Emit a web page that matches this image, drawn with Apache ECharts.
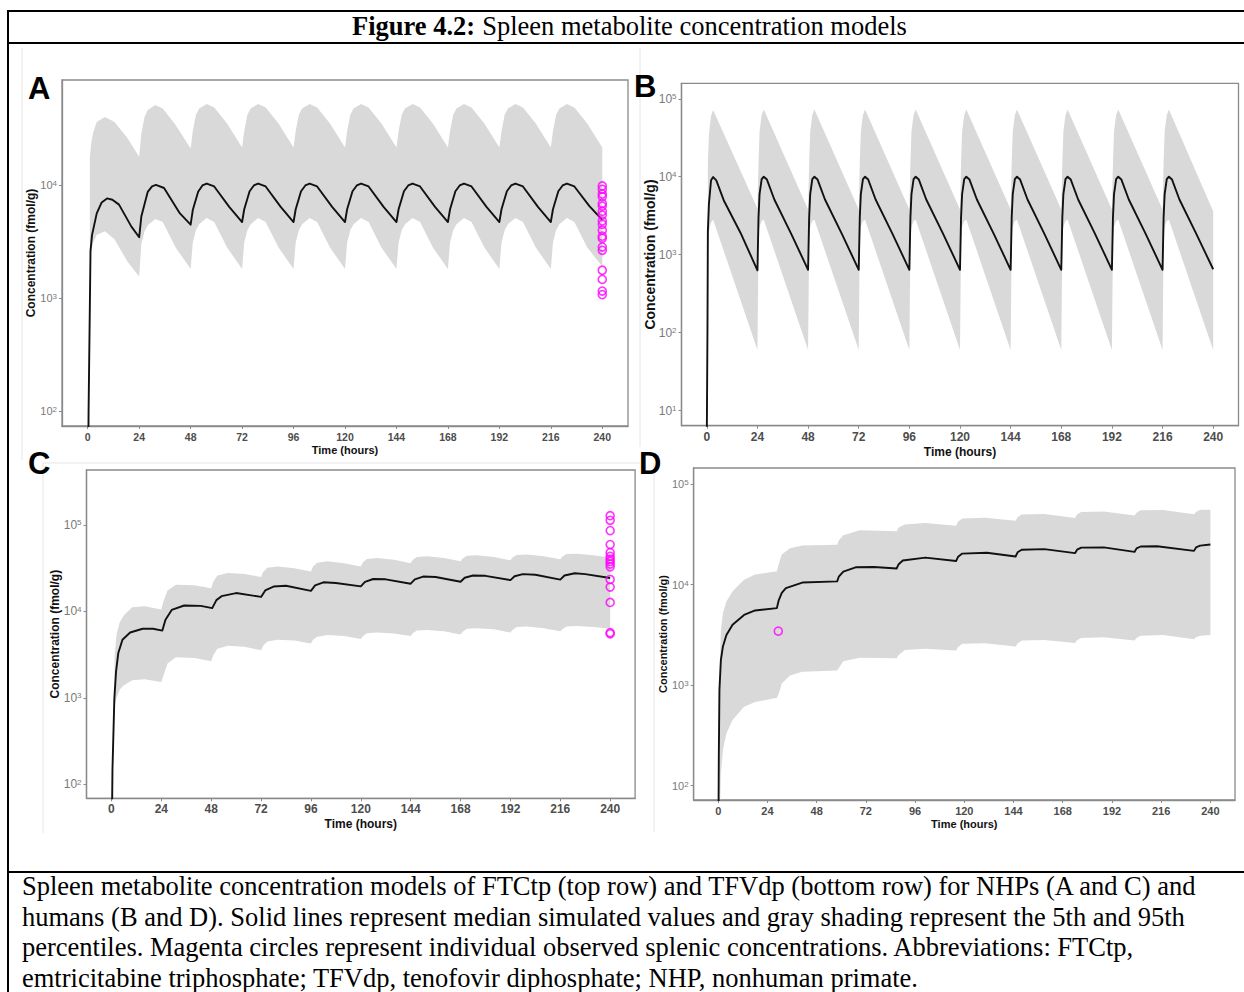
<!DOCTYPE html>
<html><head><meta charset="utf-8">
<script src="https://cdn.jsdelivr.net/npm/echarts@6/dist/echarts.min.js"></script>
<style>html,body{margin:0;padding:0;background:#fff}#c{width:1244px;height:992px}</style>
</head><body><div id="c"></div><script>
// ---------- tick labels ----------
const xTicks = [0, 24, 48, 72, 96, 120, 144, 168, 192, 216, 240];
const yTicksA = [100, 1000, 10000];
const yTicksB = [10, 100, 1000, 10000, 100000];
const yTicksC = [100, 1000, 10000, 100000];
const yTicksD = [100, 1000, 10000, 100000];

// ---------- Panel A : NHP FTCtp ----------
const aLineT = [0,0.4,1.3,2,4.2,6.5,9,11.5,14.6,20.3,24,
  25,28,30,31.8,35.6,43,48,
  49,51.5,53.5,55.5,59,66,72,
  73,75.5,77.5,79.5,83,90,96,
  97,99.5,101.5,103.5,107,114,120,
  121,123.5,125.5,127.5,131,138,144,
  145,147.5,149.5,151.5,155,162,168,
  169,171.5,173.5,175.5,179,186,192,
  193,195.5,197.5,199.5,203,210,216,
  217,219.5,221.5,223.5,227,234,240];
const aLineV = [10,100,2600,3600,5600,7000,7600,7400,6700,4300,3450,
  5250,8700,9700,10000,9400,5600,4450,
  6000,8700,9900,10300,9700,6400,4700,
  6100,8800,9900,10300,9700,6400,4700,
  6100,8800,9900,10300,9700,6400,4700,
  6100,8800,9900,10300,9700,6400,4700,
  6100,8800,9900,10300,9700,6400,4700,
  6100,8800,9900,10300,9700,6400,4700,
  6100,8800,9900,10300,9700,6400,4700,
  6100,8800,9900,10300,9700,6500,4900];
const aBandT = [1,1.7,2.5,4.2,8,12.5,18.5,24,
  25,26.5,28,31.5,35,41,48,
  49,50.5,52,55.5,59,65,72,
  73,74.5,76,79.5,83,89,96,
  97,98.5,100,103.5,107,113,120,
  121,122.5,124,127.5,131,137,144,
  145,146.5,148,151.5,155,161,168,
  169,170.5,172,175.5,179,185,192,
  193,194.5,196,199.5,203,209,216,
  217,218.5,220,223.5,227,233,240];
const aHigh = [17800,24000,29000,36000,40000,36000,26000,17800,
  28600,40000,46000,51000,47500,34000,21000,
  30000,42000,47500,52000,48500,35000,21500,
  30000,42000,47500,52000,48500,35000,21500,
  30000,42000,47500,52000,48500,35000,21500,
  30000,42000,47500,52000,48500,35000,21500,
  30000,42000,47500,52000,48500,35000,21500,
  30000,42000,47500,52000,48500,35000,21500,
  30000,42000,47500,52000,48500,35000,21500,
  30000,42000,47500,52000,48500,35000,21500];
const aLow = [2300,2700,3100,3600,3900,3300,2100,1550,
  3000,3900,4400,5000,4700,2800,1800,
  3100,4000,4500,5100,4700,2800,1800,
  3100,4000,4500,5100,4700,2800,1800,
  3100,4000,4500,5100,4700,2800,1800,
  3100,4000,4500,5100,4700,2800,1800,
  3100,4000,4500,5100,4700,2800,1800,
  3100,4000,4500,5100,4700,2800,1800,
  3100,4000,4500,5100,4700,2800,1800,
  3100,4000,4500,5100,4700,2800,1900];
const aObsT = [240,240,240,240,240,240,240,240,240,240,240,240,240,240,240,240,240,240,240];
const aObsV = [9800,9160,8320,7870,6880,6500,5840,5410,4800,4480,3980,3520,3370,2820,2640,1760,1460,1150,1070];

// ---------- Panel B : human FTCtp ----------
const bLineT = [0,0.3,0.5,1,2,3,4.5,8,16,24,
  24.5,25,26,27,28.5,32,40,48,
  48.5,49,50,51,52.5,56,64,72,
  72.5,73,74,75,76.5,80,88,96,
  96.5,97,98,99,100.5,104,112,120,
  120.5,121,122,123,124.5,128,136,144,
  144.5,145,146,147,148.5,152,160,168,
  168.5,169,170,171,172.5,176,184,192,
  192.5,193,194,195,196.5,200,208,216,
  216.5,217,218,219,220.5,224,232,240];
const bLineV = [5,100,2000,4500,9000,9900,9000,5000,1900,630,
  3000,6000,9300,10000,9200,5100,1850,640,
  3000,6000,9300,10000,9200,5100,1850,640,
  3000,6000,9300,10000,9200,5100,1850,640,
  3000,6000,9300,10000,9200,5100,1850,640,
  3000,6000,9300,10000,9200,5100,1850,640,
  3000,6000,9300,10000,9200,5100,1850,640,
  3000,6000,9300,10000,9200,5100,1850,640,
  3000,6000,9300,10000,9200,5100,1850,640,
  3000,6000,9300,10000,9200,5100,1850,650];
const bBandT = [0.5,1,2,3,24,
  24.5,25,26,27,48,
  48.5,49,50,51,72,
  72.5,73,74,75,96,
  96.5,97,98,99,120,
  120.5,121,122,123,144,
  144.5,145,146,147,168,
  168.5,169,170,171,192,
  192.5,193,194,195,216,
  216.5,217,218,219,240];
const bHigh = [15000,35000,60000,72000,3900,
  15000,38000,62000,73000,3800,
  15000,38000,62000,73000,3800,
  15000,38000,62000,73000,3800,
  15000,38000,62000,73000,3800,
  15000,38000,62000,73000,3800,
  15000,38000,62000,73000,3800,
  15000,38000,62000,73000,3800,
  15000,38000,62000,73000,3800,
  15000,38000,62000,73000,3600];
const bLow = [1000,2000,2600,2800,60,
  1500,2300,2700,2800,60,
  1500,2300,2700,2800,60,
  1500,2300,2700,2800,60,
  1500,2300,2700,2800,60,
  1500,2300,2700,2800,60,
  1500,2300,2700,2800,60,
  1500,2300,2700,2800,60,
  1500,2300,2700,2800,60,
  1500,2300,2700,2800,60];

// ---------- Panel C : NHP TFVdp ----------
const cLineT = [0,0.5,1.4,2.2,3.3,5.3,9,15,20,24.5,
  26,29,35,43,48.5,
  50.5,53,60,72,
  74,78,84,96,
  98,102,108,120,
  122,126,132,144,
  146,150,156,168,
  170,174,180,192,
  194,198,204,216,
  218,223,228,240];
const cLineV = [10,150,975,2000,3300,4700,5700,6300,6300,6000,
  8000,10400,11700,11600,10900,
  13500,15000,16300,14700,
  17500,19400,19800,17300,
  20000,21700,21300,19500,
  22000,23700,23500,20900,
  23500,25300,25000,22000,
  24500,26000,25800,23000,
  25500,27000,26500,23300,
  26000,27600,27000,24300];
const cBandT = [1.5,2.5,4,6,10,16,24,
  25,27,31,40,48,
  49,51,56,64,72,
  73,75,80,88,96,
  97,99,104,112,120,
  121,123,128,136,144,
  145,147,152,160,168,
  169,171,176,184,192,
  193,195,200,208,216,
  217,219,224,232,240];
const cHigh = [3000,5500,7500,9000,11200,11500,10500,
  13000,17500,20300,20000,18500,
  22000,26000,27800,27000,25000,
  28500,32000,33000,31500,29000,
  33000,36500,38000,36000,33000,
  37000,40500,41500,39500,36000,
  39500,42500,43500,41500,38000,
  41000,44000,44500,42500,39000,
  42000,45000,45500,43500,40000,
  43000,46000,46500,44500,42000];
const cLow = [800,1000,1250,1400,1600,1640,1530,
  1800,2500,2950,2900,2650,
  3100,3700,4000,3900,3550,
  4000,4500,4700,4600,4250,
  4700,5100,5350,5200,4800,
  5200,5600,5700,5550,5200,
  5600,6000,6100,5900,5400,
  5800,6300,6400,6200,5700,
  6100,6600,6700,6400,5900,
  6200,6700,6800,6600,6300];
const cObsT = [240,240,240,240,240,240,240,240,240,240,240,240,240,240,240];
const cObsV = [128000,113000,86000,59300,47900,43400,40300,37800,35300,32800,23400,19100,12700,5680,5500];

// ---------- Panel D : human TFVdp ----------
const dLineT = [0,0.3,0.6,1.3,2.3,4,7,12.6,18,28.6,
  29.5,31,33,41,58,
  58.8,61,67,76,87,
  88,90,101,116,
  117,119,131,145,
  146,148,159,174,
  175,177,188,203,
  204,206,214,232,
  233,235,240];
const dLineV = [10,200,900,1780,2430,3160,4000,5000,5540,5850,
  7000,8300,9260,10500,10800,
  12000,13500,14900,15000,14500,
  16000,17400,18600,17200,
  19000,20400,20800,19100,
  21000,22300,22600,20600,
  22300,23400,23500,21200,
  23000,24000,24100,21700,
  23500,24500,25100];
const dBandT = [0.8,1.3,2.3,4,7,12.6,18,28.6,
  29.5,31,35,41,58,
  59,61,69,87,
  88,91,101,116,
  117,119,130,145,
  146,148,159,174,
  175,177,188,203,
  204,206,217,232,
  233,235,240];
const dHigh = [1500,3500,5200,6800,8600,11200,12600,13600,
  16000,20000,23000,24500,25000,
  28000,31000,34800,34000,
  37000,39700,41000,38700,
  42500,45500,46500,43400,
  47000,49900,50500,46000,
  50000,53000,53500,48800,
  52000,55000,55500,50200,
  53000,55800,55800];
const dLow = [50,130,226,330,450,610,680,750,
  820,1040,1250,1360,1400,
  1500,1730,1880,1850,
  2000,2240,2300,2220,
  2400,2580,2620,2430,
  2600,2790,2820,2630,
  2800,2950,3000,2780,
  2950,3100,3150,2860,
  3000,3100,3150];
const dObsT = [29.3];
const dObsV = [3450];

// ---------- build ----------
const SANS = "'Liberation Sans', Arial, Helvetica, sans-serif";
const SERIF = "'Liberation Serif', 'Times New Roman', serif";
const zip = (t, v) => t.map((x, i) => [x, v[i]]);

const panels = [
  {grid:{left:62, top:80, width:566, height:346}, ymin:73.6, ymax:84900, yTicks:yTicksA,
   xf:10.5, yf:11, xnf:11, ynf:12, gapX:18, gapY:25,
   line:[aLineT,aLineV], band:[aBandT,aLow,aHigh], obs:[aObsT,aObsV]},
  {grid:{left:681.5, top:83.3, width:557, height:342.4}, ymin:6.4, ymax:158000, yTicks:yTicksB,
   xf:12, yf:12, xnf:12, ynf:14, gapX:20, gapY:25,
   line:[bLineT,bLineV], band:[bBandT,bLow,bHigh], obs:null},
  {grid:{left:86.5, top:470, width:548.6, height:328.3}, ymin:68.9, ymax:432000, yTicks:yTicksC,
   xf:12, yf:12, xnf:12, ynf:12, gapX:20, gapY:26,
   line:[cLineT,cLineV], band:[cBandT,cLow,cHigh], obs:[cObsT,cObsV]},
  {grid:{left:693.6, top:468, width:541.4, height:332}, ymin:72, ymax:145000, yTicks:yTicksD,
   xf:11, yf:11, xnf:11, ynf:11, gapX:18, gapY:25,
   line:[dLineT,dLineV], band:[dBandT,dLow,dHigh], obs:[dObsT,dObsV]}
];

const grids = [], xAxes = [], yAxes = [], series = [];
panels.forEach((p, i) => {
  grids.push(Object.assign({show:true, borderColor:'#8a8a8a', borderWidth:1.3,
    backgroundColor:'rgba(0,0,0,0)', containLabel:false, outerBoundsMode:'none'}, p.grid));
  xAxes.push({gridIndex:i, type:'value', min:-12, max:252,
    axisLine:{show:true, onZero:false, lineStyle:{color:'#8a8a8a', width:1.3}},
    splitLine:{show:false},
    axisTick:{show:true, length:3, customValues:xTicks, lineStyle:{color:'#8a8a8a'}},
    axisLabel:{customValues:xTicks, margin:5, fontSize:p.xf, fontWeight:'bold', color:'#4d4d4d', fontFamily:SANS},
    name:'Time (hours)', nameLocation:'middle', nameGap:p.gapX, nameMoveOverlap:false,
    nameTextStyle:{fontSize:p.xnf, fontWeight:'bold', color:'#111', fontFamily:SANS}});
  yAxes.push({gridIndex:i, type:'log', logBase:10, min:p.ymin, max:p.ymax,
    axisLine:{show:true, onZero:false, lineStyle:{color:'#8a8a8a', width:1.3}},
    splitLine:{show:false}, minorTick:{show:false},
    axisTick:{show:true, length:3, customValues:p.yTicks, lineStyle:{color:'#8a8a8a'}},
    axisLabel:{customValues:p.yTicks, margin:5, color:'#7a7a7a', fontFamily:SANS,
      formatter: function (v) {
        const e = Math.round(Math.log10(v));
        return '{b|10}{s|' + e + '}';
      },
      rich:{ b:{fontSize:p.yf, color:'#7a7a7a', fontFamily:SANS},
             s:{fontSize:Math.round(p.yf*0.7), color:'#7a7a7a', fontFamily:SANS, verticalAlign:'top'} }},
    name:'Concentration (fmol/g)', nameLocation:'middle', nameGap:p.gapY, nameMoveOverlap:false,
    nameTextStyle:{fontSize:p.ynf, fontWeight:'bold', color:'#111', fontFamily:SANS}});
  const [bt, blo, bhi] = p.band;
  series.push({type:'custom', xAxisIndex:i, yAxisIndex:i, silent:true, z:1,
    data:[[bt[0], bhi[0]]],
    renderItem: function (params, api) {
      const pts = [];
      for (let k = 0; k < bt.length; k++) pts.push(api.coord([bt[k], bhi[k]]));
      for (let k = bt.length - 1; k >= 0; k--) pts.push(api.coord([bt[k], blo[k]]));
      const cs = params.coordSys;
      return {type:'polygon', shape:{points:pts}, style:{fill:'#d9d9d9', stroke:null},
        clipPath:{type:'rect', shape:{x:cs.x, y:cs.y, width:cs.width, height:cs.height}}};
    }});
  series.push({type:'line', xAxisIndex:i, yAxisIndex:i, data:zip(p.line[0], p.line[1]),
    showSymbol:false, symbol:'none', clip:true, z:3, silent:true,
    lineStyle:{color:'#111', width:1.9, join:'round'}});
  if (p.obs) series.push({type:'scatter', xAxisIndex:i, yAxisIndex:i, data:zip(p.obs[0], p.obs[1]),
    symbol:'circle', symbolSize:8, z:4, silent:true,
    itemStyle:{color:'rgba(255,255,255,0)', borderColor:'#ff00ff', borderWidth:1.6}});
});

const captionLines = [
  'Spleen metabolite concentration models of FTCtp (top row) and TFVdp (bottom row) for NHPs (A and C) and',
  'humans (B and D). Solid lines represent median simulated values and gray shading represent the 5th and 95th',
  'percentiles. Magenta circles represent individual observed splenic concentrations. Abbreviations: FTCtp,',
  'emtricitabine triphosphate; TFVdp, tenofovir diphosphate; NHP, nonhuman primate.'
];
const panelLetters = ['A', 'B', 'C', 'D'];
const letterPos = [[28, 88], [634, 86], [28, 463], [639, 463]];

const gfx = [];
// faint borders of the embedded panel pictures
[[22,48,22,460],[43,463,640,463],[43,463,43,833],[654,463,654,832],[640,48,640,447]].forEach(l => {
  gfx.push({type:'line', z:-10, silent:true, shape:{x1:l[0],y1:l[1],x2:l[2],y2:l[3]}, style:{stroke:'#e6e6e6', lineWidth:1}});
});
gfx.push({type:'rect', silent:true, shape:{x:8, y:11, width:1260, height:1000}, style:{fill:'none', stroke:'#000', lineWidth:2}});
gfx.push({type:'line', silent:true, shape:{x1:8, y1:43, x2:1250, y2:43}, style:{stroke:'#000', lineWidth:2}});
gfx.push({type:'line', silent:true, shape:{x1:8, y1:872, x2:1250, y2:872}, style:{stroke:'#000', lineWidth:2}});
gfx.push({type:'text', silent:true, x:352, y:26, style:{text:'Figure 4.2:', fontSize:26.5, fontWeight:'bold', fontFamily:SERIF, fill:'#000', align:'left', verticalAlign:'middle'}});
gfx.push({type:'text', silent:true, x:475.6, y:26, style:{text:' Spleen metabolite concentration models', fontSize:26.5, fontFamily:SERIF, fill:'#000', align:'left', verticalAlign:'middle'}});
captionLines.forEach((t, k) => {
  gfx.push({type:'text', silent:true, x:22, y:886 + k*30.6, style:{text:t, fontSize:26.5, fontFamily:SERIF, fill:'#000', align:'left', verticalAlign:'middle'}});
});
panelLetters.forEach((t, k) => {
  gfx.push({type:'text', silent:true, x:letterPos[k][0], y:letterPos[k][1], style:{text:t, fontSize:31, fontWeight:'bold', fontFamily:SANS, fill:'#000', align:'left', verticalAlign:'middle'}});
});

const chart = echarts.init(document.getElementById('c'), null, {renderer:'svg', width:1244, height:992});
chart.setOption({
  animation:false, backgroundColor:'#fff', textStyle:{fontFamily:SANS},
  grid:grids, xAxis:xAxes, yAxis:yAxes, series:series, graphic:{elements:gfx}
});
</script></body></html>
